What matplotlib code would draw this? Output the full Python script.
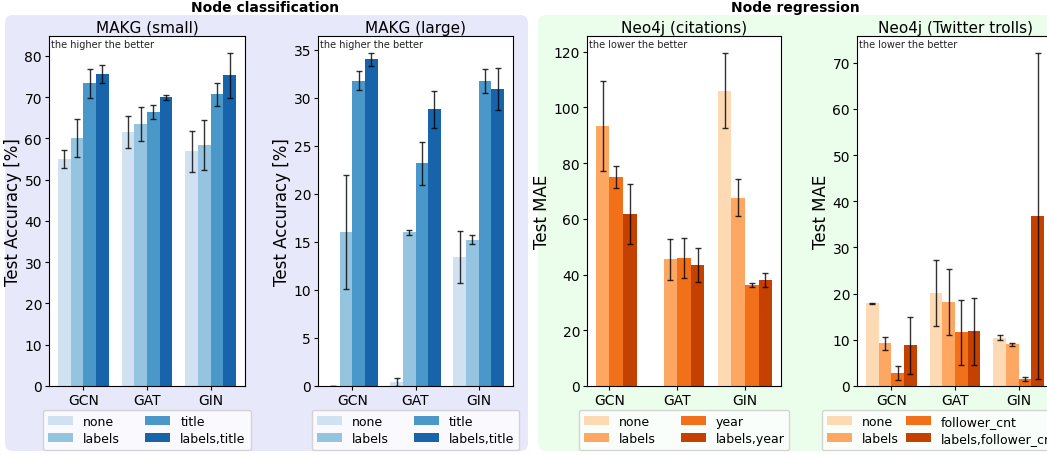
import numpy as np
import matplotlib
matplotlib.use('Agg')
import matplotlib.pyplot as plt
from matplotlib.patches import FancyBboxPatch

# models on the x axis
models = ['GCN', 'GAT', 'GIN']

# MAKG (small) - test accuracy [%], one list per feature set
makg_small_labels = ['none', 'labels', 'title', 'labels,title']
makg_small_mean = [[55.0, 61.5, 56.9],
                   [60.1, 63.5, 58.4],
                   [73.4, 66.4, 70.7],
                   [75.6, 70.0, 75.3]]
makg_small_std = [[2.2, 3.9, 5.0],
                  [4.5, 4.1, 6.0],
                  [3.5, 1.8, 2.8],
                  [2.1, 0.6, 5.5]]

# MAKG (large)
makg_large_labels = ['none', 'labels', 'title', 'labels,title']
makg_large_mean = [[0.0, 0.4, 13.4],
                   [16.0, 16.0, 15.25],
                   [31.8, 23.2, 31.8],
                   [34.0, 28.8, 30.9]]
makg_large_std = [[0.0, 0.4, 2.7],
                  [5.95, 0.25, 0.45],
                  [0.95, 2.25, 1.25],
                  [0.7, 1.95, 2.2]]

# Neo4j (citations) - test MAE
cit_labels = ['none', 'labels', 'year', 'labels,year']
cit_mean = [[np.nan, np.nan, 106.0],
            [93.3, 45.5, 67.5],
            [75.0, 45.9, 36.2],
            [61.8, 43.4, 38.0]]
cit_std = [[np.nan, np.nan, 13.6],
           [16.1, 7.4, 6.6],
           [4.0, 7.3, 0.7],
           [10.7, 6.0, 2.6]]

# Neo4j (Twitter trolls) - test MAE
tw_labels = ['none', 'labels', 'follower_cnt', 'labels,follower_cnt']
tw_mean = [[17.9, 20.1, 10.5],
           [9.25, 18.15, 9.0],
           [2.75, 11.6, 1.6],
           [8.8, 11.85, 36.9]]
tw_std = [[0.1, 7.1, 0.5],
          [1.4, 7.1, 0.25],
          [1.55, 7.05, 0.45],
          [6.2, 7.3, 35.3]]

blues = [plt.cm.Blues(v) for v in (0.2, 0.4, 0.6, 0.8)]
oranges = [plt.cm.Oranges(v) for v in (0.2, 0.4, 0.6, 0.8)]

W, H = 1047, 456
fig = plt.figure(figsize=(W / 100, H / 100), dpi=100)

# background panels (pixel coords -> inches)
for x0, x1, col in [(5, 528, '#e8e8fb'), (538, 1062, '#ebfdeb')]:
    fig.patches.append(FancyBboxPatch((x0 / 100, 4 / 100), (x1 - x0) / 100, 436 / 100,
                                      boxstyle='round,pad=0,rounding_size=0.08',
                                      transform=fig.dpi_scale_trans, facecolor=col,
                                      edgecolor='none', zorder=-10))

fig.text(265 / W, 1 - 8 / H, 'Node classification', ha='center', va='center',
         fontsize=10, fontweight='bold')
fig.text(795 / W, 1 - 8 / H, 'Node regression', ha='center', va='center',
         fontsize=10, fontweight='bold')


def panel(left, width, title, labels, mean, std, colors, ylabel, note,
          colspace=2.0, leg_loc='upper center', leg_x=0.5):
    ax = fig.add_axes([left / W, 69 / H, width / W, 350 / H])
    x = np.arange(len(models))
    w = 0.2
    for i, lab in enumerate(labels):
        ax.bar(x + (i - 1.5) * w, mean[i], w, yerr=std[i], color=colors[i], label=lab,
               capsize=2, error_kw=dict(ecolor='black', elinewidth=1, capthick=1, alpha=0.8))
    ax.set_xticks(x)
    ax.set_xticklabels(models, fontsize=10)
    ax.tick_params(axis='both', labelsize=10, length=3, pad=2)
    ax.set_title(title, fontsize=11, pad=3)
    ax.set_ylabel(ylabel, fontsize=12, labelpad=2)
    ax.text(0.01, 0.99, note, transform=ax.transAxes, ha='left', va='top',
            fontsize=7, color='#222222')
    ax.legend(loc=leg_loc, bbox_to_anchor=(leg_x, -0.068), borderaxespad=0,
              ncol=2, fontsize=9, labelspacing=0.35, columnspacing=colspace)
    return ax


panel(49, 196, 'MAKG (small)', makg_small_labels, makg_small_mean, makg_small_std,
      blues, 'Test Accuracy [%]', 'the higher the better')
panel(318, 195, 'MAKG (large)', makg_large_labels, makg_large_mean, makg_large_std,
      blues, 'Test Accuracy [%]', 'the higher the better')
panel(587, 194, 'Neo4j (citations)', cit_labels, cit_mean, cit_std,
      oranges, 'Test MAE', 'the lower the better')
panel(857, 196, 'Neo4j (Twitter trolls)', tw_labels, tw_mean, tw_std,
      oranges, 'Test MAE', 'the lower the better', colspace=0.6,
      leg_loc='upper left', leg_x=-0.18)

fig.savefig('out.png', dpi=100)
